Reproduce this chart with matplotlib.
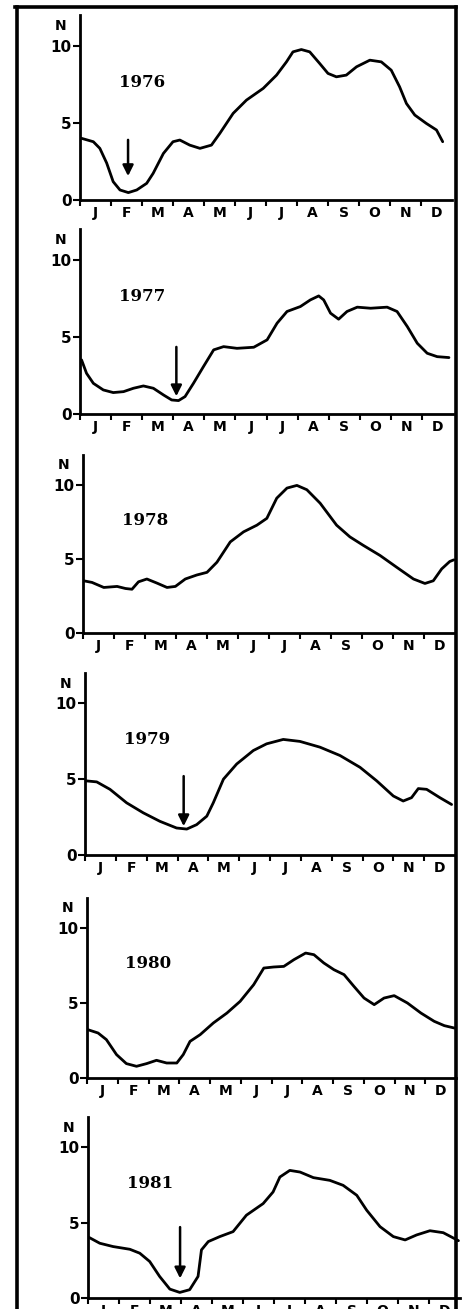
import matplotlib
matplotlib.use('Agg')
import matplotlib.pyplot as plt
from matplotlib.lines import Line2D
import numpy as np

# ── data: monthly curves (x in months from 1 Jan, y = N) ──
months = ['J', 'F', 'M', 'A', 'M', 'J', 'J', 'A', 'S', 'O', 'N', 'D']
years = ['1976', '1977', '1978', '1979', '1980', '1981']

x_1976 = [0.05, 0.43, 0.64, 0.86, 1.07, 1.29, 1.56, 1.83, 2.15, 2.36, 2.69, 3.0, 3.22, 3.54,
          3.87, 4.24, 4.51, 4.94, 5.37, 5.91, 6.34, 6.66, 6.87, 7.14, 7.41, 7.73, 8.0, 8.27,
          8.59, 8.92, 9.35, 9.72, 10.04, 10.31, 10.53, 10.8, 11.17, 11.5, 11.7]
y_1976 = [4.0, 3.78, 3.35, 2.4, 1.19, 0.65, 0.48, 0.65, 1.08, 1.73, 3.02, 3.78, 3.89, 3.56,
          3.35, 3.56, 4.32, 5.62, 6.48, 7.24, 8.1, 8.96, 9.61, 9.76, 9.61, 8.86, 8.21, 7.99,
          8.1, 8.64, 9.07, 8.96, 8.42, 7.34, 6.26, 5.51, 4.97, 4.54, 3.78]

x_1977 = [0.05, 0.21, 0.43, 0.75, 1.07, 1.4, 1.72, 2.04, 2.36, 2.69, 2.95, 3.17, 3.38, 3.65,
          3.97, 4.3, 4.62, 5.05, 5.59, 6.02, 6.34, 6.66, 7.09, 7.41, 7.68, 7.84, 8.06, 8.32,
          8.59, 8.92, 9.35, 9.88, 10.2, 10.53, 10.85, 11.17, 11.49, 11.87]
y_1977 = [3.51, 2.64, 1.99, 1.56, 1.39, 1.45, 1.67, 1.82, 1.67, 1.23, 0.91, 0.87, 1.13, 1.99,
          3.07, 4.16, 4.37, 4.26, 4.33, 4.81, 5.89, 6.65, 6.97, 7.4, 7.66, 7.4, 6.54, 6.15,
          6.65, 6.93, 6.86, 6.93, 6.65, 5.67, 4.59, 3.94, 3.72, 3.66]

x_1978 = [0.02, 0.29, 0.67, 1.1, 1.37, 1.58, 1.79, 2.06, 2.39, 2.71, 2.98, 3.3, 3.67, 4.0,
          4.32, 4.75, 5.18, 5.61, 5.93, 6.25, 6.58, 6.9, 7.22, 7.65, 8.18, 8.61, 9.04, 9.58,
          10.12, 10.66, 11.03, 11.3, 11.57, 11.83, 11.96]
y_1978 = [3.52, 3.41, 3.07, 3.14, 3.0, 2.95, 3.45, 3.64, 3.36, 3.07, 3.14, 3.64, 3.91, 4.09,
          4.77, 6.14, 6.82, 7.27, 7.73, 9.09, 9.77, 9.95, 9.66, 8.75, 7.27, 6.48, 5.91, 5.23,
          4.43, 3.64, 3.34, 3.52, 4.32, 4.82, 4.93]

x_1979 = [0.03, 0.38, 0.81, 1.35, 1.89, 2.43, 2.97, 3.3, 3.62, 3.95, 4.16, 4.49, 4.92, 5.46,
          5.89, 6.43, 6.97, 7.62, 8.27, 8.92, 9.46, 10.0, 10.32, 10.59, 10.81, 11.08, 11.51, 11.89]
y_1979 = [4.89, 4.82, 4.33, 3.44, 2.78, 2.22, 1.78, 1.71, 2.0, 2.56, 3.44, 5.0, 6.0, 6.89,
          7.33, 7.62, 7.49, 7.11, 6.56, 5.78, 4.89, 3.89, 3.56, 3.78, 4.38, 4.33, 3.78, 3.33]

x_1980 = [0.03, 0.36, 0.63, 0.96, 1.28, 1.61, 1.94, 2.26, 2.59, 2.92, 3.13, 3.35, 3.68, 4.11,
          4.55, 4.98, 5.42, 5.75, 6.07, 6.4, 6.73, 7.11, 7.38, 7.7, 8.03, 8.36, 8.68, 9.01,
          9.34, 9.66, 9.99, 10.42, 10.86, 11.29, 11.62, 11.95]
y_1980 = [3.22, 3.0, 2.56, 1.56, 0.96, 0.78, 0.96, 1.18, 1.0, 1.0, 1.56, 2.44, 2.89, 3.67,
          4.33, 5.11, 6.22, 7.33, 7.4, 7.44, 7.89, 8.33, 8.22, 7.67, 7.22, 6.89, 6.11, 5.33,
          4.89, 5.33, 5.49, 5.0, 4.33, 3.78, 3.49, 3.33]

x_1981 = [0.03, 0.38, 0.81, 1.35, 1.67, 1.99, 2.31, 2.64, 2.96, 3.28, 3.55, 3.66, 3.88, 4.25,
          4.68, 5.11, 5.65, 5.97, 6.19, 6.51, 6.84, 7.27, 7.8, 8.23, 8.67, 8.99, 9.42, 9.85,
          10.23, 10.6, 11.03, 11.46, 11.95]
y_1981 = [4.02, 3.63, 3.41, 3.23, 2.97, 2.42, 1.43, 0.59, 0.37, 0.55, 1.43, 3.19, 3.74, 4.07,
          4.4, 5.49, 6.26, 7.03, 8.02, 8.46, 8.35, 7.98, 7.8, 7.47, 6.81, 5.82, 4.73, 4.07,
          3.85, 4.18, 4.46, 4.33, 3.8]

# arrows: (x, y_start, y_end) or None
arrows = [(1.55, 3.9, 1.55), (3.1, 4.35, 1.15), None, (3.2, 5.2, 1.9), None, (2.97, 4.7, 1.3)]

curves_x = [x_1976, x_1977, x_1978, x_1979, x_1980, x_1981]
curves_y = [y_1976, y_1977, y_1978, y_1979, y_1980, y_1981]

# ── layout in pixels (left, right, y of N=0, y of N=12) ──
W, H = 463, 1309
panels_px = [(80, 452, 200, 15), (80, 453, 414, 229), (83, 455, 633, 455),
             (85, 455, 855, 673), (87, 456, 1078, 898), (88, 460, 1298, 1117)]

fig = plt.figure(figsize=(W / 100, H / 100), dpi=100)
fig.patch.set_facecolor('white')

for i, (l, r, b, t) in enumerate(panels_px):
    ax = fig.add_axes([l / W, 1 - b / H, (r - l) / W, (b - t) / H])
    ax.plot(curves_x[i], curves_y[i], color='black', lw=2.0, solid_capstyle='round',
            solid_joinstyle='round')
    ax.set_xlim(0, 12)
    ax.set_ylim(0, 12)
    for s in ['top', 'right']:
        ax.spines[s].set_visible(False)
    for s in ['left', 'bottom']:
        ax.spines[s].set_linewidth(2.0)
    ax.set_yticks([0, 5, 10])
    ax.set_yticklabels(['0', '5', '10'], fontsize=11, fontweight='bold')
    ax.tick_params(axis='y', direction='out', length=5, width=1.5, pad=1)
    ax.set_xticks(np.arange(12))
    ax.set_xticklabels([])
    ax.tick_params(axis='x', which='major', direction='out', length=4, width=1.5)
    ax.set_xticks(np.arange(12) + 0.5, minor=True)
    ax.set_xticklabels(months, minor=True, fontsize=10, fontweight='bold')
    ax.tick_params(axis='x', which='minor', length=0, pad=4)
    ax.text(-0.62, 11.3, 'N', fontsize=10, fontweight='bold', ha='center', va='center')
    ax.text(2.0, 7.6, years[i], fontsize=12, fontweight='bold', family='DejaVu Serif',
            ha='center', va='center')
    if arrows[i] is not None:
        xa, ys, ye = arrows[i]
        ax.annotate('', xy=(xa, ye), xytext=(xa, ys),
                    arrowprops=dict(arrowstyle='-|>', color='black', lw=1.8,
                                    mutation_scale=16, shrinkA=0, shrinkB=0))

# thick frame around the plate
for (x0, y0, x1, y1) in [(17, 7, 17, H + 5), (15, 7, 456, 7), (456, 7, 456, H + 5)]:
    fig.add_artist(Line2D([x0 / W, x1 / W], [1 - y0 / H, 1 - y1 / H], color='black', lw=2.6))

plt.savefig('out.png', dpi=100)
print("Saved: out.png")
